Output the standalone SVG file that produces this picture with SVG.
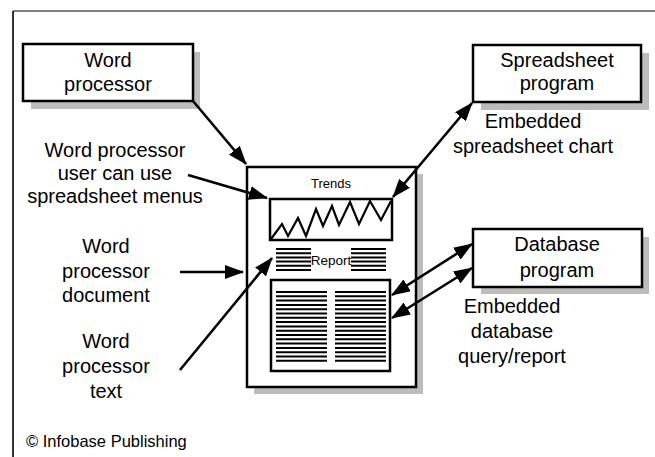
<svg xmlns="http://www.w3.org/2000/svg" width="655" height="457" viewBox="0 0 655 457">
<defs>
<style>
text{font-family:"Liberation Sans",Arial,sans-serif;fill:#000}
.lbl{font-size:20px;text-anchor:middle}
.small{font-size:13px;text-anchor:middle}
.box{fill:#fff;stroke:#000;stroke-width:2.5}
.shadow{fill:#bcbcbc}
.conn{stroke:#000;stroke-width:2.6;fill:none}
.rule{stroke:#000;stroke-width:2}
</style>
<marker id="ah" markerUnits="userSpaceOnUse" markerWidth="20" markerHeight="14" refX="18" refY="7" orient="auto-start-reverse" viewBox="0 0 20 14">
<path d="M0,0 L19,7 L0,14 z" fill="#000"/>
</marker>
</defs>
<rect width="655" height="457" fill="#fff"/>
<g id="frame">
<line x1="13" y1="11" x2="655" y2="11" stroke="#555" stroke-width="1.6"/>
<line x1="13" y1="11" x2="13" y2="457" stroke="#000" stroke-width="1.6"/>
</g>
<g id="word-processor">
<rect class="shadow" x="31" y="52" width="169" height="57"/>
<rect class="box" x="23" y="44" width="170" height="57"/>
<text class="lbl" x="108" y="67">Word</text>
<text class="lbl" x="108" y="91">processor</text>
</g>
<g id="spreadsheet-program">
<rect class="shadow" x="481" y="53" width="168" height="57"/>
<rect class="box" x="473" y="45" width="168" height="57"/>
<text class="lbl" x="557" y="67">Spreadsheet</text>
<text class="lbl" x="557" y="90">program</text>
</g>
<g id="database-program">
<rect class="shadow" x="481" y="237" width="168" height="57"/>
<rect class="box" x="473" y="229" width="169" height="58"/>
<text class="lbl" x="557" y="251">Database</text>
<text class="lbl" x="557" y="277">program</text>
</g>
<g id="document">
<rect class="shadow" x="254" y="174" width="169" height="220"/>
<rect class="box" x="247" y="167" width="169" height="220" stroke-width="2.2"/>
<text class="small" x="331" y="188">Trends</text>
<rect x="270" y="199" width="122" height="41" fill="#fff" stroke="#000" stroke-width="2.5"/>
<polyline fill="none" stroke="#000" stroke-width="2.2" points="271,239 282,224 288,236 298,218 306,236 316,209 323,226 332,206 339,225 350,202 359,224 370,201 381,220 391,201"/>
<g class="rule">
<line x1="276" y1="249" x2="311" y2="249"/><line x1="276" y1="253.2" x2="311" y2="253.2"/><line x1="276" y1="257.4" x2="311" y2="257.4"/><line x1="276" y1="261.6" x2="311" y2="261.6"/><line x1="276" y1="265.8" x2="311" y2="265.8"/><line x1="276" y1="270" x2="311" y2="270"/>
<line x1="351" y1="249" x2="386" y2="249"/><line x1="351" y1="253.2" x2="386" y2="253.2"/><line x1="351" y1="257.4" x2="386" y2="257.4"/><line x1="351" y1="261.6" x2="386" y2="261.6"/><line x1="351" y1="265.8" x2="386" y2="265.8"/><line x1="351" y1="270" x2="386" y2="270"/>
</g>
<text x="331" y="265" font-size="13.5" text-anchor="middle">Report</text>
<rect x="271" y="280" width="119" height="91" fill="#fff" stroke="#000" stroke-width="2.5"/>
<g class="rule">
<line x1="276" y1="292" x2="327" y2="292"/><line x1="276" y1="296.3" x2="327" y2="296.3"/><line x1="276" y1="300.6" x2="327" y2="300.6"/><line x1="276" y1="304.9" x2="327" y2="304.9"/><line x1="276" y1="309.2" x2="327" y2="309.2"/><line x1="276" y1="313.5" x2="327" y2="313.5"/><line x1="276" y1="317.8" x2="327" y2="317.8"/><line x1="276" y1="322.1" x2="327" y2="322.1"/><line x1="276" y1="326.4" x2="327" y2="326.4"/><line x1="276" y1="330.7" x2="327" y2="330.7"/><line x1="276" y1="335" x2="327" y2="335"/><line x1="276" y1="339.3" x2="327" y2="339.3"/><line x1="276" y1="343.6" x2="327" y2="343.6"/><line x1="276" y1="347.9" x2="327" y2="347.9"/><line x1="276" y1="352.2" x2="327" y2="352.2"/><line x1="276" y1="356.5" x2="327" y2="356.5"/><line x1="276" y1="360.8" x2="327" y2="360.8"/>
<line x1="335" y1="292" x2="386" y2="292"/><line x1="335" y1="296.3" x2="386" y2="296.3"/><line x1="335" y1="300.6" x2="386" y2="300.6"/><line x1="335" y1="304.9" x2="386" y2="304.9"/><line x1="335" y1="309.2" x2="386" y2="309.2"/><line x1="335" y1="313.5" x2="386" y2="313.5"/><line x1="335" y1="317.8" x2="386" y2="317.8"/><line x1="335" y1="322.1" x2="386" y2="322.1"/><line x1="335" y1="326.4" x2="386" y2="326.4"/><line x1="335" y1="330.7" x2="386" y2="330.7"/><line x1="335" y1="335" x2="386" y2="335"/><line x1="335" y1="339.3" x2="386" y2="339.3"/><line x1="335" y1="343.6" x2="386" y2="343.6"/><line x1="335" y1="347.9" x2="386" y2="347.9"/><line x1="335" y1="352.2" x2="386" y2="352.2"/><line x1="335" y1="356.5" x2="386" y2="356.5"/><line x1="335" y1="360.8" x2="386" y2="360.8"/>
</g>
</g>
<g id="labels">
<text class="lbl" x="115" y="157">Word processor</text>
<text class="lbl" x="115" y="180">user can use</text>
<text class="lbl" x="115" y="203">spreadsheet menus</text>
<text class="lbl" x="106" y="253">Word</text>
<text class="lbl" x="106" y="278">processor</text>
<text class="lbl" x="106" y="302">document</text>
<text class="lbl" x="106" y="348">Word</text>
<text class="lbl" x="106" y="373">processor</text>
<text class="lbl" x="106" y="398">text</text>
<text class="lbl" x="533" y="128">Embedded</text>
<text class="lbl" x="533" y="153">spreadsheet chart</text>
<text class="lbl" x="512" y="313">Embedded</text>
<text class="lbl" x="512" y="338">database</text>
<text class="lbl" x="512" y="363">query/report</text>
<text x="26" y="447" font-size="16.5">© Infobase Publishing</text>
</g>
<g id="connectors">
<line class="conn" x1="193" y1="101" x2="246" y2="164" marker-end="url(#ah)"/>
<line class="conn" x1="188" y1="175" x2="267" y2="198" marker-end="url(#ah)"/>
<line class="conn" x1="180" y1="272" x2="243" y2="272" marker-end="url(#ah)"/>
<line class="conn" x1="180" y1="370" x2="272" y2="258" marker-end="url(#ah)"/>
<line class="conn" x1="393" y1="197" x2="472" y2="103" marker-start="url(#ah)" marker-end="url(#ah)"/>
<line class="conn" x1="392" y1="295" x2="472" y2="244" marker-start="url(#ah)" marker-end="url(#ah)"/>
<line class="conn" x1="392" y1="318" x2="472" y2="268" marker-start="url(#ah)" marker-end="url(#ah)"/>
</g>
</svg>
